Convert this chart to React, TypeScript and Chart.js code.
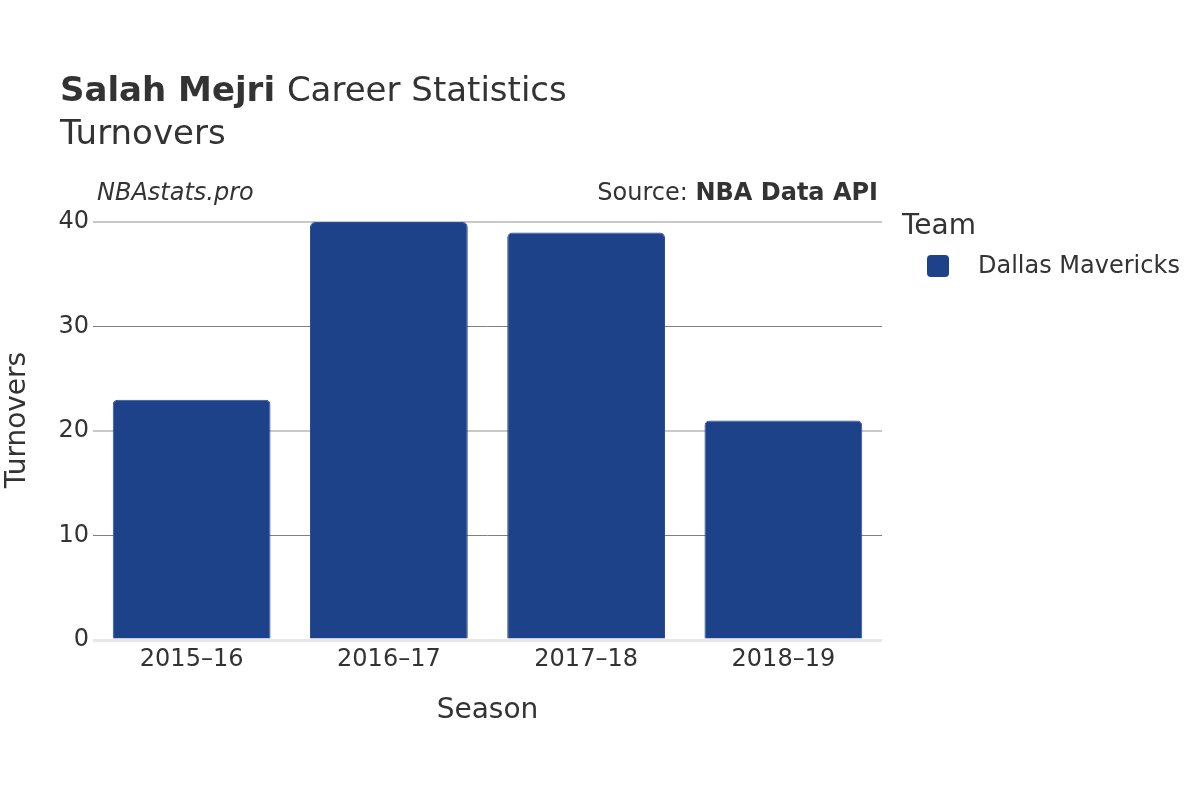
import React, { useEffect, useRef } from "react";
import { Chart, registerables } from "chart.js";

Chart.register(...registerables);

const seasons = ["2015–16", "2016–17", "2017–18", "2018–19"];
const turnovers = [23, 40, 39, 21];
const yTicks = [0, 10, 20, 30, 40];
const teamName = "Dallas Mavericks";
const barColor = "#1d428a";
const textColor = "#333333";
const FONT = "'DejaVu Sans', sans-serif";

const textPlugin = {
  id: "texts",
  afterDraw(chart: any) {
    const ctx = chart.ctx;
    const area = chart.chartArea;
    ctx.save();
    ctx.fillStyle = textColor;
    ctx.textBaseline = "alphabetic";
    // Title
    ctx.textAlign = "left";
    ctx.font = `bold 34px ${FONT}`;
    const bold = "Salah Mejri";
    ctx.fillText(bold, 60, 101);
    const w = ctx.measureText(bold + " ").width;
    ctx.font = `34px ${FONT}`;
    ctx.fillText("Career Statistics", 60 + w, 101);
    ctx.fillText("Turnovers", 60, 144);
    // annotations
    ctx.font = `italic 24px ${FONT}`;
    ctx.fillText("NBAstats.pro", 97, 200);
    ctx.textAlign = "right";
    ctx.font = `bold 24px ${FONT}`;
    const src = "NBA Data API";
    ctx.fillText(src, 878, 200);
    const sw = ctx.measureText(src).width;
    ctx.font = `24px ${FONT}`;
    ctx.fillText("Source: ", 878 - sw, 200);
    // axis titles
    ctx.textAlign = "center";
    ctx.font = `28px ${FONT}`;
    ctx.textBaseline = "middle";
    ctx.fillText("Season", (area.left + area.right) / 2, 711);
    ctx.save();
    ctx.translate(18, 420);
    ctx.rotate(-Math.PI / 2);
    ctx.fillText("Turnovers", 0, 0);
    ctx.restore();
    // legend
    ctx.textAlign = "left";
    ctx.font = `28px ${FONT}`;
    ctx.fillText("Team", 902, 227);
    ctx.fillStyle = barColor;
    ctx.beginPath();
    (ctx as any).roundRect(927, 255, 22, 22, 4);
    ctx.fill();
    ctx.fillStyle = textColor;
    ctx.font = `24px ${FONT}`;
    ctx.fillText(teamName, 978, 267);
    ctx.restore();
  },
};

export default function App() {
  const ref = useRef<HTMLCanvasElement>(null);
  useEffect(() => {
    document.body.style.margin = "0";
    const chart = new Chart(ref.current as HTMLCanvasElement, {
      type: "bar",
      data: {
        labels: seasons,
        datasets: [
          {
            label: teamName,
            data: turnovers,
            backgroundColor: barColor,
            borderColor: "#2a4f95",
            borderWidth: 1,
            borderRadius: { topLeft: 5, topRight: 5, bottomLeft: 0, bottomRight: 0 },
            borderSkipped: "bottom",
            barPercentage: 0.8,
            categoryPercentage: 1,
          },
        ],
      },
      options: {
        responsive: false,
        animation: false,
        layout: { padding: { top: 222, right: 318, left: 0, bottom: 0 } },
        plugins: {
          legend: { display: false },
          title: { display: false },
          tooltip: { enabled: false },
        },
        scales: {
          x: {
            grid: { display: false, drawTicks: false },
            border: { display: false },
            ticks: { color: textColor, font: { family: FONT, size: 24 }, padding: 5 },
            afterFit: (s: any) => {
              s.height = 160;
            },
          },
          y: {
            min: 0,
            max: 40,
            afterBuildTicks: (s: any) => {
              s.ticks = yTicks.map((v) => ({ value: v }));
            },
            border: { display: false },
            grid: {
              drawTicks: false,
              color: (c: any) => {
                const v = c.tick?.value;
                if (v === 0) return "#e8e8e8";
                if (v === 10 || v === 30) return "#808080";
                return "#c8c8c8";
              },
              lineWidth: (c: any) => {
                const v = c.tick?.value;
                if (v === 0) return 3;
                if (v === 10 || v === 30) return 1;
                return 2;
              },
            },
            ticks: { color: textColor, font: { family: FONT, size: 24 }, padding: 4 },
            afterFit: (s: any) => {
              s.width = 93;
            },
          },
        },
      },
      plugins: [textPlugin],
    });
    return () => chart.destroy();
  }, []);
  return (
    <div style={{ width: 1200, height: 800 }}>
      <canvas ref={ref} width={1200} height={800} />
    </div>
  );
}
